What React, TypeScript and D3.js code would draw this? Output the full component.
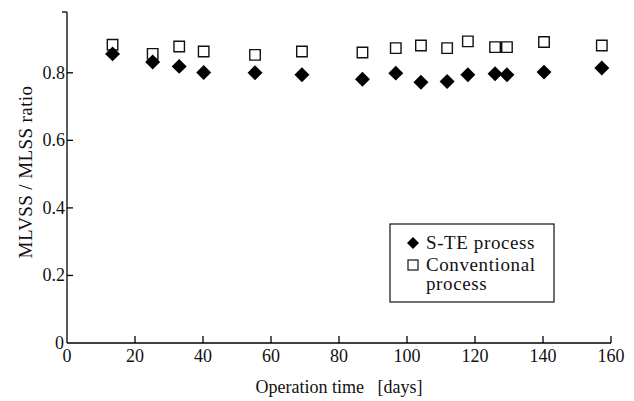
import * as d3 from 'd3'

const days = [13.4, 25.2, 33, 40.2, 55.3, 69.1, 86.9, 96.7, 104.1, 111.8, 117.9, 125.9, 129.4, 140.3, 157.3]
const steRatio = [0.856, 0.832, 0.819, 0.801, 0.800, 0.794, 0.781, 0.799, 0.772, 0.774, 0.794, 0.797, 0.794, 0.802, 0.814]
const convRatio = [0.883, 0.856, 0.878, 0.863, 0.853, 0.863, 0.860, 0.873, 0.881, 0.873, 0.893, 0.876, 0.876, 0.891, 0.881]
const xTicks = [0, 20, 40, 60, 80, 100, 120, 140, 160]
const yTicks = [0, 0.2, 0.4, 0.6, 0.8]
const yTickLabels = ['0', '0.2', '0.4', '0.6', '0.8']

const width = 634
const height = 401
const font = '"Liberation Serif", "Times New Roman", serif'

export default function App() {
  const x = d3.scaleLinear().domain([0, 160]).range([67, 611])
  const y = d3.scaleLinear().domain([0, 0.98]).range([343, 12])

  const diamond = d3.symbol(d3.symbolSquare, 112)()
  const square = d3.symbol(d3.symbolSquare, 110)()

  return (
    <svg width={width} height={height} style={{ position: 'absolute', left: 0, top: 0, background: '#fff' }}>
      <g stroke="#000" strokeWidth={1.3} fill="none">
        <line x1={x(0)} x2={x(0)} y1={y(0)} y2={y(0.98)} />
        <line x1={x(0)} x2={x(160)} y1={y(0)} y2={y(0)} />
        <line x1={x(0) - 5} x2={x(0)} y1={y(0.98)} y2={y(0.98)} />
        {xTicks.slice(1).map(t => (
          <line key={t} x1={x(t)} x2={x(t)} y1={y(0)} y2={y(0) - 7} />
        ))}
        {yTicks.slice(1).map(t => (
          <line key={t} x1={x(0)} x2={x(0) + 6} y1={y(t)} y2={y(t)} />
        ))}
      </g>

      <g fontFamily={font} fontSize={18} fill="#111">
        {xTicks.map(t => (
          <text key={t} x={x(t)} y={362} textAnchor="middle">{t}</text>
        ))}
        {yTicks.map((t, i) => (
          <text key={t} x={t === 0 ? 64 : 65} y={y(t) + 6} textAnchor="end">{yTickLabels[i]}</text>
        ))}
        <text x={339} y={393} textAnchor="middle" style={{ whiteSpace: 'pre' }}>Operation time   [days]</text>
        <text transform={`translate(32,172) rotate(-90)`} textAnchor="middle" fontSize={19} letterSpacing={0.4}>MLVSS / MLSS ratio</text>
      </g>

      <g>
        {days.map((d, i) => (
          <path key={'c' + i} d={square} transform={`translate(${x(d)},${y(convRatio[i])})`}
            fill="#fff" stroke="#111" strokeWidth={1.4} />
        ))}
        {days.map((d, i) => (
          <path key={'s' + i} d={diamond} transform={`translate(${x(d)},${y(steRatio[i])}) rotate(45)`}
            fill="#000" />
        ))}
      </g>

      <g>
        <rect x={390} y={224} width={164} height={78} fill="#fff" stroke="#111" strokeWidth={1.2} />
        <path d={d3.symbol(d3.symbolSquare, 72)()} transform="translate(413,243) rotate(45)" fill="#000" />
        <rect x={408} y={260} width={10} height={10} fill="#fff" stroke="#111" strokeWidth={1.2} />
        <g fontFamily={font} fontSize={19} letterSpacing={0.6} fill="#111">
          <text x={426} y={249}>S-TE process</text>
          <text x={426} y={271}>Conventional</text>
          <text x={426} y={290}>process</text>
        </g>
      </g>
    </svg>
  )
}
